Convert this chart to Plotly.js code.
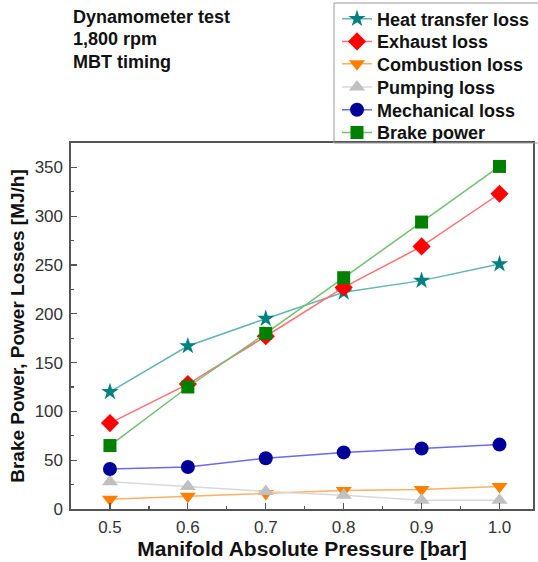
<!DOCTYPE html>
<html><head><meta charset="utf-8">
<script src="https://cdn.plot.ly/plotly-3.0.1.min.js"></script>
<style>html,body{margin:0;padding:0;background:#fff}#chart{width:538px;height:562px}</style>
</head><body><div id="chart"></div>
<script>
const pressure = [0.5, 0.6, 0.7, 0.8, 0.9, 1.0];
const heatTransfer = [120, 167, 195, 222, 234, 251];
const exhaust = [88, 128, 177, 227, 269, 323];
const combustion = [10, 13, 16, 19, 20, 23];
const pumping = [28, 23, 18, 14, 9, 9];
const mechanical = [41, 43, 52, 58, 62, 66];
const brakePower = [65, 125, 180, 237, 294, 351];
const xTickVals = [0.5, 0.6, 0.7, 0.8, 0.9, 1.0];
const xTickText = ['0.5', '0.6', '0.7', '0.8', '0.9', '1.0'];
const notes = ['Dynamometer test', '1,800 rpm', 'MBT timing'];

const F = 'Arial, "Liberation Sans", sans-serif';
const PT = 143, PB = 509, PL = 71, PW = 462;
const py = v => (PB - v) / (PB - PT);
const px = v => (v - PL) / PW;

const legendRows = [19, 41.7, 64, 87.3, 110, 132.7];
const legendIds = ['legend', 'legend2', 'legend3', 'legend4', 'legend5', 'legend6'];

function tr(i, name, y, sym, mcol, lcol, size) {
  return {x: pressure, y: y, name: name, type: 'scatter', mode: 'lines+markers',
    legend: legendIds[i],
    line: {color: lcol, width: 1.5},
    marker: {symbol: sym, color: mcol, size: size, line: {width: 0}}};
}
const data = [
  tr(0, 'Heat transfer loss', heatTransfer, 'star', '#008080', '#66b3b3', 13),
  tr(1, 'Exhaust loss', exhaust, 'diamond', '#ff0000', '#ff7070', 14),
  tr(2, 'Combustion loss', combustion, 'triangle-down', '#ff8000', '#ffb060', 14),
  tr(3, 'Pumping loss', pumping, 'triangle-up', '#c0c0c0', '#d8d8d8', 14),
  tr(4, 'Mechanical loss', mechanical, 'circle', '#000099', '#6a6aee', 14),
  tr(5, 'Brake power', brakePower, 'square', '#008000', '#70c070', 13)
];
const axisCommon = {showline: true, mirror: true, linecolor: '#555', linewidth: 1.6,
  ticks: 'inside', ticklen: 6, tickwidth: 1.2, tickcolor: '#555',
  showgrid: false, zeroline: false, automargin: false,
  tickfont: {family: F, size: 17, color: '#333'}};
const layout = {
  width: 538, height: 562,
  margin: {l: 71, r: 5, t: 143, b: 53, autoexpand: false},
  paper_bgcolor: '#fff', plot_bgcolor: '#fff',
  font: {family: F},
  showlegend: true,
  xaxis: Object.assign({}, axisCommon, {range: [0.45, 1.043], tickvals: xTickVals, ticktext: xTickText,
    ticklabelstandoff: 2,
    minor: {dtick: 0.05, tick0: 0.45, ticks: 'inside', ticklen: 3, tickcolor: '#555'},
    title: {text: 'Manifold Absolute Pressure [bar]', font: {family: F, size: 21, color: '#111', weight: 'bold'}, standoff: 3}}),
  yaxis: Object.assign({}, axisCommon, {range: [0, 375], dtick: 50,
    ticklabelstandoff: 3,
    minor: {dtick: 25, ticks: 'inside', ticklen: 3, tickcolor: '#555'},
    title: {text: 'Brake Power, Power Losses [MJ/h]', font: {family: F, size: 19, color: '#111', weight: 'bold'}, standoff: 5}}),
  shapes: [{type: 'rect', xref: 'paper', yref: 'paper', x0: px(334), x1: px(545), y0: py(143), y1: py(3),
    line: {color: '#999', width: 1}, fillcolor: 'rgba(0,0,0,0)', layer: 'above'}],
  annotations: notes.map((t, i) => ({text: t, xref: 'paper', yref: 'paper', x: 0.0, y: py([16.7, 39.3, 61.7][i]),
    xanchor: 'left', yanchor: 'middle', showarrow: false,
    font: {family: F, size: 18, color: '#111', weight: 'bold'}}))
};
legendIds.forEach((id, i) => {
  layout[id] = {x: px(337), xanchor: 'left', y: py(legendRows[i]), yanchor: 'middle',
    borderwidth: 0, bgcolor: 'rgba(0,0,0,0)',
    font: {family: F, size: 18, color: '#111', weight: 'bold'}, itemwidth: 30};
});
Plotly.newPlot('chart', data, layout, {staticPlot: true, displayModeBar: false});
</script></body></html>
